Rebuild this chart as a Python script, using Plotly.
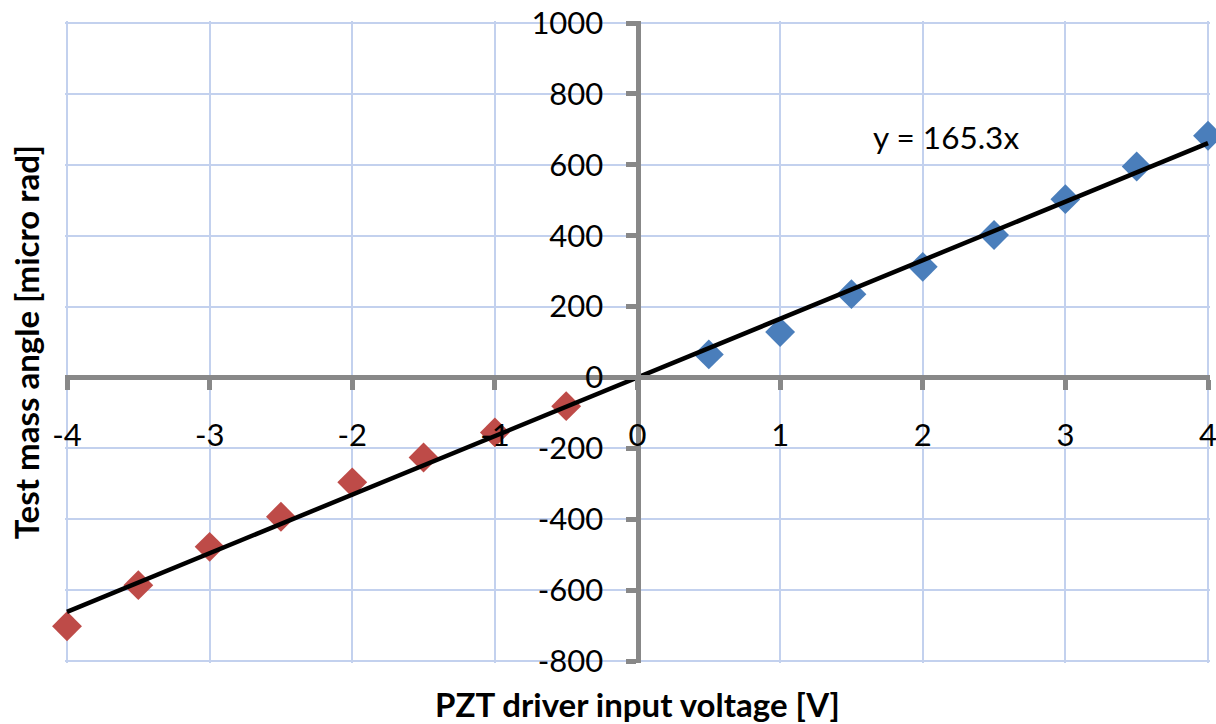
import plotly.graph_objects as go

# ---- data ----
x_pos = [0.5, 1.0, 1.5, 2.0, 2.5, 3.0, 3.5, 4.0]
y_pos = [65, 128, 235, 312, 402, 503, 595, 682]
x_neg = [-0.5, -1.0, -1.5, -2.0, -2.5, -3.0, -3.5, -4.0]
y_neg = [-81, -155, -226, -296, -393, -478, -586, -702]
fit_slope = 165.3
fit_x = [-4, 4]
fit_y = [fit_slope * v for v in fit_x]
x_lim = [-4, 4]
y_lim = [-800, 1000]
x_tickvals = [-4, -3, -2, -1, 0, 1, 2, 3, 4]
x_ticktext = ["-4", "-3", "-2", "-1", "0", "1", "2", "3", "4"]
y_tickvals = [-800, -600, -400, -200, 0, 200, 400, 600, 800, 1000]
y_ticktext = ["-800", "-600", "-400", "-200", "0", "200", "400", "600", "800", "1000"]
x_title = "PZT driver input voltage [V]"
y_title = "Test mass angle [micro rad]"
eq_text = "y = 165.3x"

FONT = "Lato, Carlito, Calibri, sans-serif"
GRID = "#C3D1EE"
AXIS = "#888888"
BLUE = "#4A7EBB"
RED = "#BE4B48"

W, H = 1216, 724
PL, PR, PT, PB = 67, 1208, 23, 661   # pixel edges of the data limits
PAD = 2                               # small pad so edge grid lines are drawn
ux = (x_lim[1] - x_lim[0]) / (PR - PL)
uy = (y_lim[1] - y_lim[0]) / (PB - PT)
x_range = [x_lim[0] - PAD * ux, x_lim[1] + PAD * ux]
y_range = [y_lim[0] - PAD * uy, y_lim[1] + PAD * uy]

fig = go.Figure()
fig.add_trace(go.Scatter(x=x_pos, y=y_pos, mode="markers",
                         marker=dict(symbol="diamond", size=23, color=BLUE),
                         cliponaxis=False, showlegend=False))
fig.add_trace(go.Scatter(x=x_neg, y=y_neg, mode="markers",
                         marker=dict(symbol="diamond", size=23, color=RED),
                         cliponaxis=False, showlegend=False))
fig.add_trace(go.Scatter(x=fit_x, y=fit_y, mode="lines", xaxis="x2", yaxis="y2",
                         line=dict(color="black", width=4.5),
                         cliponaxis=False, showlegend=False))

# x position of the y axis line and y position of the x axis line (data zero)
y_axis_pos = (0 - x_range[0]) / (x_range[1] - x_range[0])
x_axis_pos = (0 - y_range[0]) / (y_range[1] - y_range[0])

tickfont = dict(family=FONT, size=31, color="black")
titlefont = dict(family=FONT, size=33, color="black", weight="bold")

fig.update_layout(
    width=W, height=H,
    margin=dict(l=PL - PAD, r=W - PR - PAD, t=PT - PAD, b=H - PB - PAD, autoexpand=False),
    paper_bgcolor="white", plot_bgcolor="white",
    font=dict(family=FONT, size=31, color="black"),
    xaxis=dict(range=x_range, tickvals=x_tickvals, showgrid=True, gridcolor=GRID, gridwidth=1.5,
               zeroline=False, showline=False, showticklabels=False, ticks="",
               title=dict(text=x_title, font=titlefont, standoff=31), automargin=False),
    yaxis=dict(range=y_range, tickvals=y_tickvals, showgrid=True, gridcolor=GRID, gridwidth=1.5,
               zeroline=False, showline=False, showticklabels=False, ticks="",
               title=dict(text=y_title, font=titlefont, standoff=14), automargin=False),
    xaxis2=dict(range=x_range, tickvals=x_tickvals, ticktext=x_ticktext, overlaying="x",
                anchor="free", position=x_axis_pos, side="bottom", showgrid=False, zeroline=False,
                showline=True, linecolor=AXIS, linewidth=5,
                ticks="outside", ticklen=10, tickwidth=5, tickcolor=AXIS,
                tickfont=tickfont, ticklabelstandoff=18, ticklabeloverflow="allow",
                automargin=False),
    yaxis2=dict(range=y_range, tickvals=y_tickvals, ticktext=y_ticktext, overlaying="y",
                anchor="free", position=y_axis_pos, side="left", showgrid=False, zeroline=False,
                showline=True, linecolor=AXIS, linewidth=5,
                ticks="outside", ticklen=10, tickwidth=5, tickcolor=AXIS,
                tickfont=tickfont, ticklabelstandoff=16, ticklabeloverflow="allow",
                automargin=False),
    annotations=[dict(x=2.16, y=679, xref="x2", yref="y2", text=eq_text, showarrow=False,
                      font=dict(family=FONT, size=31.5, color="black"),
                      xanchor="center", yanchor="middle")],
)

fig.write_html("out.html")
